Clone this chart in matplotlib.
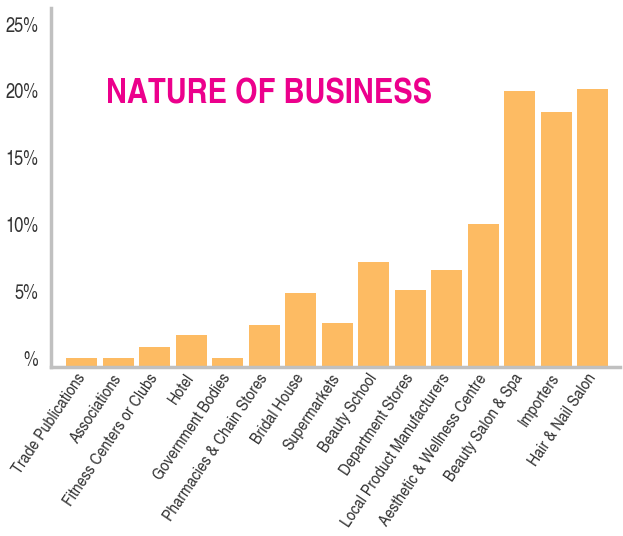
import matplotlib
matplotlib.use("Agg")
import matplotlib.pyplot as plt

categories = ["Trade Publications", "Associations", "Fitness Centers or Clubs", "Hotel",
              "Government Bodies", "Pharmacies & Chain Stores", "Bridal House", "Supermarkets",
              "Beauty School", "Department Stores", "Local Product Manufacturers",
              "Aesthetic & Wellness Centre", "Beauty Salon & Spa", "Importers", "Hair & Nail Salon"]
values = [0.0, 0.0, 0.8, 1.7, 0.0, 2.5, 4.9, 2.6, 7.2, 5.1, 6.6, 10.0, 20.0, 18.4, 20.1]
yticks = [0, 5, 10, 15, 20, 25]
ytick_labels = ["%", "5%", "10%", "15%", "20%", "25%"]
title = "NATURE OF BUSINESS"

narrow = ["TeX Gyre Heros Cn", "DejaVu Sans"]

ymin, ymax = -0.67, 26.2
fig = plt.figure(figsize=(6.23, 5.36), dpi=100)
ax = fig.add_axes([51/623, 1-367/536, (620-51)/623, (367-8)/536])

x = list(range(len(categories)))
heights = [max(v - ymin, 0.3) for v in values]
ax.bar(x, heights, bottom=ymin, width=0.85, color="#FDBB63")

ax.set_xlim(-0.84, 14.75)
ax.set_ylim(ymin, ymax)
ax.set_yticks(yticks)
ax.set_yticklabels(ytick_labels, fontfamily=narrow, fontsize=14.5, color="#333333")
ax.set_xticks(x)
ax.set_xticklabels(categories, rotation=56, ha="right", va="center", rotation_mode="anchor",
                   fontfamily=narrow, fontsize=12.4, color="#333333")
ax.tick_params(axis="both", length=0)
ax.tick_params(axis="y", pad=9)
ax.tick_params(axis="x", pad=6)
for s in ["top", "right"]:
    ax.spines[s].set_visible(False)
for s in ["left", "bottom"]:
    ax.spines[s].set_color("#C0C0C0")
    ax.spines[s].set_linewidth(2.5)

fig.text(106/623, 1-95/536, title, fontfamily=narrow, fontweight="bold", fontsize=25.5,
         color="#EC008C", ha="left", va="center")

fig.savefig("out.png", dpi=100)
